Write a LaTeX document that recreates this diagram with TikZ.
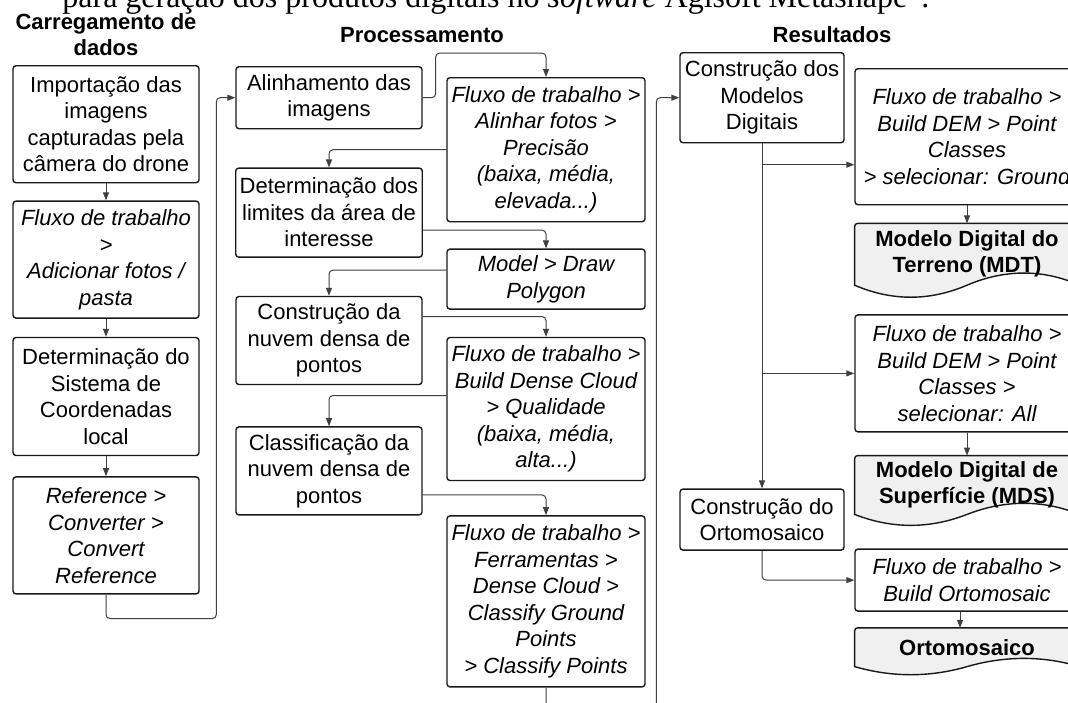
\documentclass[tikz,border=0pt]{standalone}
\usepackage{fontspec}
\setmainfont{Liberation Sans}
\newfontfamily\capfont{Liberation Serif}
\usetikzlibrary{arrows.meta,positioning}
\pgfdeclarelayer{bg}
\pgfsetlayers{bg,main}

\begin{document}
\begin{tikzpicture}[
  x=0.5pt, y=-0.5pt,
  txt/.style={font=\fontsize{11}{13.25}\selectfont},
  box/.style={txt, draw=black!90, line width=0.7pt, rounded corners=1.5pt, align=center, inner xsep=2pt, inner ysep=2pt},
  cmd/.style={box, font=\fontsize{11}{13.25}\selectfont\itshape},
  doc/.style={align=center, inner sep=2pt, font=\fontsize{11}{13}\selectfont\bfseries},
  head/.style={align=center, inner sep=0pt, font=\fontsize{11}{13}\selectfont\bfseries},
  colA/.style={minimum width=93pt},
  colBl/.style={minimum width=93pt},
  colBr/.style={minimum width=99pt},
  colCl/.style={minimum width=82pt},
  colCr/.style={minimum width=112pt},
  arr/.style={-{Triangle[length=4pt,width=3pt]}, draw=black!75, line width=0.5pt, rounded corners=2pt}
]
\useasboundingbox (0,0) rectangle (1068,702);
\begin{pgfonlayer}{bg}
\fill[white] (0,0) rectangle (1068,702);
\end{pgfonlayer}

% caption line cut by the page top
\node[anchor=base west, inner sep=0pt, font=\capfont\fontsize{16}{19}\selectfont] (cap) at (62,7)
  {para geração dos produtos digitais no \textit{software} Agisoft Metashape”.};

% column titles
\node[head] (h1) at (106,35) {Carregamento de\\dados};
\node[head] (h2) at (422,35) {Processamento};
\node[head] (h3) at (832,35) {Resultados};

% loading
\node[box, colA, minimum height=58.5pt, anchor=north] (b1) at (106,65) {Importação das\\imagens\\capturadas pela\\câmera do drone};
\node[cmd, colA, minimum height=58.5pt, below=8.5pt of b1] (b2) {Fluxo de trabalho\\>\\Adicionar fotos /\\pasta};
\node[box, colA, minimum height=59pt, below=9pt of b2] (b3) {Determinação do\\Sistema de\\Coordenadas\\local};
\node[cmd, colA, minimum height=58.5pt, below=10pt of b3] (b4) {Reference >\\Converter >\\Convert\\Reference};

% processing
\node[box, colBl, minimum height=31pt, anchor=north] (p1) at (329,66) {Alinhamento das\\imagens};
\node[box, colBl, minimum height=44.5pt, below=19pt of p1] (p3) {Determinação dos\\limites da área de\\interesse};
\node[box, colBl, minimum height=44pt, below=19pt of p3] (p5) {Construção da\\nuvem densa de\\pontos};
\node[box, colBl, minimum height=44pt, below=20.5pt of p5] (p7) {Classificação da\\nuvem densa de\\pontos};

\node[cmd, colBr, minimum height=72pt, anchor=north] (p2) at (546,77) {Fluxo de trabalho >\\Alinhar fotos >\\Precisão\\(baixa, média,\\elevada...)};
\node[cmd, colBr, minimum height=30pt, below=13pt of p2] (p4) {Model > Draw\\Polygon};
\node[cmd, colBr, minimum height=71.5pt, below=13.5pt of p4] (p6) {Fluxo de trabalho >\\Build Dense Cloud\\> Qualidade\\(baixa, média,\\alta...)};
\node[cmd, colBr, minimum height=85.5pt, below=17pt of p6] (p8) {Fluxo de trabalho >\\Ferramentas >\\Dense Cloud >\\Classify Ground\\Points\\> Classify Points};

% results
\node[box, colCl, minimum height=45pt, anchor=north] (r1) at (762,52) {Construção dos\\Modelos\\Digitais};
\node[box, colCl, minimum height=30.5pt, below=172.5pt of r1] (r2) {Construção do\\Ortomosaico};

\node[cmd, colCr, minimum height=68pt, anchor=north] (r3) at (967,68) {Fluxo de trabalho >\\Build DEM > Point\\Classes\\> selecionar: Ground};
\node[doc, colCr, minimum height=30.5pt, below=9pt of r3] (r4) {Modelo Digital do\\Terreno (MDT)};
\node[cmd, colCr, minimum height=58.5pt, below=14.5pt of r4] (r5) {Fluxo de trabalho >\\Build DEM > Point\\Classes >\\selecionar: All};
\node[doc, colCr, minimum height=29pt, below=11.5pt of r5] (r6) {Modelo Digital de\\Superfície (MDS)};
\node[cmd, colCr, minimum height=31pt, below=17pt of r6] (r7) {Fluxo de trabalho >\\Build Ortomosaic};
\node[doc, colCr, minimum height=19pt, below=8pt of r7] (r8) {Ortomosaico};

% product shapes
\begin{pgfonlayer}{bg}
\foreach \d/\a in {r4/8pt, r6/7.3pt, r8/5.4pt}
  \draw[fill=gray!12, draw=black!90, line width=0.7pt, rounded corners=1.5pt]
    (\d.south west) -- (\d.north west) -- (\d.north east) -- (\d.south east)
    [sharp corners] .. controls +(-18.7pt,\a) and +(18.7pt,\a) .. (\d.south)
    .. controls +(-18.7pt,-\a) and +(18.7pt,-\a) .. (\d.south west) -- cycle;
\end{pgfonlayer}

% connectors
\draw[arr] (b1) -- (b2);
\draw[arr] (b2) -- (b3);
\draw[arr] (b3) -- (b4);
\draw[arr] (b4.south) -- ++(0,-12pt) -| ([xshift=-9.5pt]p1.west) -- (p1.west);

\draw[arr] (p1.east) -- ++(6.5pt,0) |- ([yshift=12pt]p2.north) -- (p2.north);
\draw[arr] (p2.west) -| (p3.north);
\draw[arr] ([yshift=-8.75pt]p3.east) -| (p4.north);
\draw[arr] ([yshift=4.5pt]p4.west) -| (p5.north);
\draw[arr] ([yshift=12pt]p5.east) -| (p6.north);
\draw[arr] ([yshift=6.75pt]p6.west) -| (p7.north);
\draw[arr] ([yshift=-12pt]p7.east) -| (p8.north);
\draw[arr] (p8.south) -- ++(0,-15pt) -| ([xshift=-11.5pt]r1.west) -- (r1.west);

\coordinate (j1) at ([yshift=-14pt]r3.west);
\draw[arr] (r1) -- (r2);
\draw[arr] (r1.south |- j1) -- (j1);
\draw[arr] (r1.south |- r5.west) -- (r5.west);
\draw[arr] (r2.south) |- (r7.west);
\draw[arr] (r3) -- (r4);
\draw[arr] (r5) -- (r6);
\draw[arr] ([xshift=-3.5pt]r7.south) -- ([xshift=-3.5pt]r8.north);
\end{tikzpicture}
\end{document}
